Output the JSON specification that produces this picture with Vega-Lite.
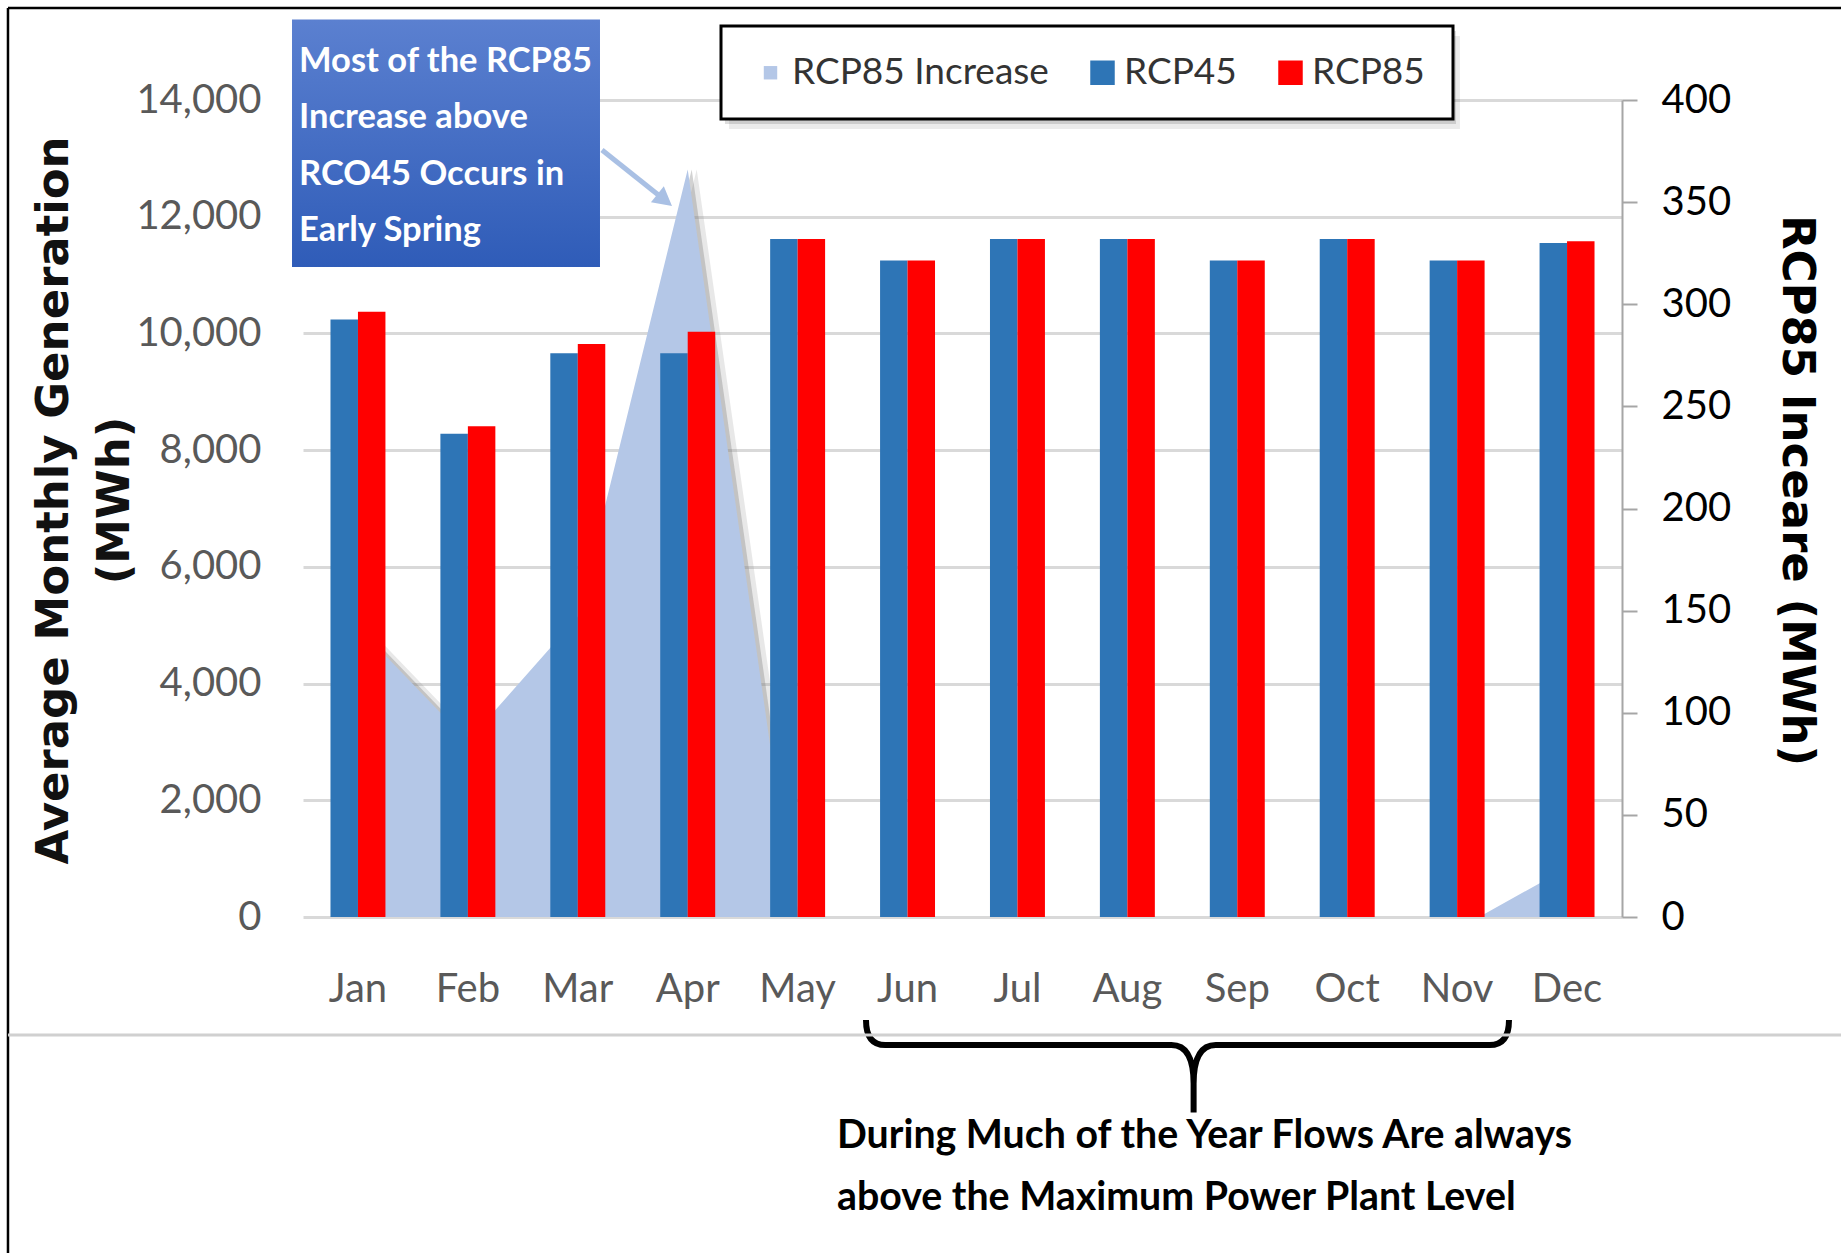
{
  "$schema": "https://vega.github.io/schema/vega-lite/v6.json",
  "width": 1319,
  "height": 817,
  "autosize": {"type": "none"},
  "padding": {"left": 303, "top": 100, "right": 219, "bottom": 336},
  "background": "white",
  "config": {"view": {"stroke": null}, "font": "Lato"},
  "datasets": {
    "bars": [
      {"month": "Jan", "series": "RCP45", "value": 10240},
      {"month": "Jan", "series": "RCP85", "value": 10370},
      {"month": "Feb", "series": "RCP45", "value": 8280},
      {"month": "Feb", "series": "RCP85", "value": 8410},
      {"month": "Mar", "series": "RCP45", "value": 9660},
      {"month": "Mar", "series": "RCP85", "value": 9820},
      {"month": "Apr", "series": "RCP45", "value": 9660},
      {"month": "Apr", "series": "RCP85", "value": 10030},
      {"month": "May", "series": "RCP45", "value": 11620},
      {"month": "May", "series": "RCP85", "value": 11620},
      {"month": "Jun", "series": "RCP45", "value": 11250},
      {"month": "Jun", "series": "RCP85", "value": 11250},
      {"month": "Jul", "series": "RCP45", "value": 11620},
      {"month": "Jul", "series": "RCP85", "value": 11620},
      {"month": "Aug", "series": "RCP45", "value": 11620},
      {"month": "Aug", "series": "RCP85", "value": 11620},
      {"month": "Sep", "series": "RCP45", "value": 11250},
      {"month": "Sep", "series": "RCP85", "value": 11250},
      {"month": "Oct", "series": "RCP45", "value": 11620},
      {"month": "Oct", "series": "RCP85", "value": 11620},
      {"month": "Nov", "series": "RCP45", "value": 11250},
      {"month": "Nov", "series": "RCP85", "value": 11250},
      {"month": "Dec", "series": "RCP45", "value": 11550},
      {"month": "Dec", "series": "RCP85", "value": 11580}
    ],
    "increase": [
      {"month": "Jan", "increase": 142},
      {"month": "Feb", "increase": 86},
      {"month": "Mar", "increase": 147},
      {"month": "Apr", "increase": 366},
      {"month": "May", "increase": -10},
      {"month": "Jun", "increase": 0},
      {"month": "Jul", "increase": 0},
      {"month": "Aug", "increase": 0},
      {"month": "Sep", "increase": 0},
      {"month": "Oct", "increase": 0},
      {"month": "Nov", "increase": -6},
      {"month": "Dec", "increase": 24}
    ]
  },
  "layer": [
    {
      "data": {"name": "increase"},
      "mark": {"type": "area", "color": "#7f7f7f", "opacity": 0.18, "xOffset": 9, "clip": true},
      "encoding": {
        "x": {"field": "month", "type": "nominal", "sort": ["Jan","Feb","Mar","Apr","May","Jun","Jul","Aug","Sep","Oct","Nov","Dec"], "scale": {"domain": ["Jan","Feb","Mar","Apr","May","Jun","Jul","Aug","Sep","Oct","Nov","Dec"], "paddingInner": 0.5, "paddingOuter": 0.25}, "bandPosition": 0.5, "axis": null},
        "y": {"field": "increase", "type": "quantitative", "scale": {"domain": [0, 400], "nice": false, "zero": false}, "axis": null}
      }
    },
    {
      "data": {"name": "increase"},
      "mark": {"type": "area", "color": "#7f7f7f", "opacity": 0.35, "xOffset": 4, "clip": true},
      "encoding": {
        "x": {"field": "month", "type": "nominal", "sort": ["Jan","Feb","Mar","Apr","May","Jun","Jul","Aug","Sep","Oct","Nov","Dec"], "scale": {"domain": ["Jan","Feb","Mar","Apr","May","Jun","Jul","Aug","Sep","Oct","Nov","Dec"], "paddingInner": 0.5, "paddingOuter": 0.25}, "bandPosition": 0.5, "axis": null},
        "y": {"field": "increase", "type": "quantitative", "scale": {"domain": [0, 400], "nice": false, "zero": false}, "axis": null}
      }
    },
    {
      "data": {"name": "increase"},
      "mark": {"type": "area", "opacity": 1, "clip": true},
      "encoding": {
        "x": {"field": "month", "type": "nominal", "sort": ["Jan","Feb","Mar","Apr","May","Jun","Jul","Aug","Sep","Oct","Nov","Dec"], "scale": {"domain": ["Jan","Feb","Mar","Apr","May","Jun","Jul","Aug","Sep","Oct","Nov","Dec"], "paddingInner": 0.5, "paddingOuter": 0.25}, "bandPosition": 0.5, "axis": null},
        "y": {
          "field": "increase", "type": "quantitative",
          "scale": {"domain": [0, 400], "nice": false, "zero": false},
          "axis": {
            "orient": "right", "values": [0, 50, 100, 150, 200, 250, 300, 350, 400],
            "grid": false, "domain": true, "domainColor": "#a6a6a6", "domainWidth": 2,
            "ticks": true, "tickColor": "#a6a6a6", "tickWidth": 2, "tickSize": 15,
            "labelPadding": 24, "labelFont": "Lato", "labelFontSize": 40, "labelColor": "#000000",
            "title": "RCP85 Inceare (MWh)", "titleFont": "DejaVu Sans", "titleFontSize": 45, "titleFontWeight": "bold",
            "titleColor": "#000000", "titleAngle": 90, "titleX": 174, "titleY": 390, "titleAlign": "center", "titleBaseline": "middle"
          }
        },
        "color": {"datum": "RCP85 Increase", "type": "nominal", "scale": {"domain": ["RCP85 Increase", "RCP45", "RCP85"], "range": ["#b4c7e7", "#2e75b6", "#ff0000"]}}
      }
    },
    {
      "data": {"name": "bars"},
      "mark": {"type": "bar"},
      "encoding": {
        "x": {
          "field": "month", "type": "nominal", "sort": ["Jan","Feb","Mar","Apr","May","Jun","Jul","Aug","Sep","Oct","Nov","Dec"],
          "scale": {"domain": ["Jan","Feb","Mar","Apr","May","Jun","Jul","Aug","Sep","Oct","Nov","Dec"], "paddingInner": 0.5, "paddingOuter": 0.25},
          "axis": {"title": null, "orient": "bottom", "domain": false, "ticks": false, "tickSize": 0, "grid": false, "labelAngle": 0, "labelPadding": 84, "labelBaseline": "alphabetic", "labelFont": "Lato", "labelFontSize": 40, "labelColor": "#595959"}
        },
        "xOffset": {"field": "series", "type": "nominal", "sort": ["RCP45", "RCP85"], "scale": {"domain": ["RCP45", "RCP85"], "paddingInner": 0, "paddingOuter": 0}},
        "y": {
          "field": "value", "type": "quantitative",
          "scale": {"domain": [0, 14000], "nice": false, "zero": false},
          "axis": {
            "orient": "left", "values": [0, 2000, 4000, 6000, 8000, 10000, 12000, 14000], "format": ",d",
            "grid": true, "gridColor": "#d9d9d9", "gridWidth": 3, "domain": false, "ticks": false, "tickSize": 0,
            "labelPadding": 42, "labelFont": "Lato", "labelFontSize": 40, "labelColor": "#595959",
            "title": ["Average Monthly Generation", "(MWh)"], "titleFont": "DejaVu Sans", "titleFontSize": 45, "titleFontWeight": "bold",
            "titleColor": "#111111", "titleAngle": -90, "titleX": -250, "titleY": 400, "titleAlign": "center", "titleBaseline": "middle", "titleLineHeight": 61
          }
        },
        "color": {
          "field": "series", "type": "nominal",
          "scale": {"domain": ["RCP85 Increase", "RCP45", "RCP85"], "range": ["#b4c7e7", "#2e75b6", "#ff0000"]},
          "legend": {
            "title": null, "orient": "none", "legendX": 418, "legendY": -74, "direction": "horizontal",
            "symbolType": "square", "symbolSize": 600, "symbolStrokeWidth": 0, "symbolOffset": 3,
            "labelFont": "Lato", "labelFontSize": 37, "labelColor": "#333333", "labelOffset": 3, "labelLimit": 500,
            "columnPadding": 32, "padding": 28, "strokeColor": "#000000", "fillColor": "#ffffff",
            "encode": {
              "legend": {"update": {"strokeWidth": {"value": 3}}},
              "symbols": {"update": {"size": {"signal": "datum.value === 'RCP85 Increase' ? 180 : 600"}}}
            }
          }
        }
      }
    },
    {
      "data": {"values": [{}]},
      "layer": [
        {
          "mark": {"type": "rect", "color": "#000000", "opacity": 0.08},
          "encoding": {
            "x": {"datum": 3.876, "type": "quantitative", "scale": {"domain": [0, 12], "nice": false, "zero": false}, "axis": null},
            "x2": {"datum": 10.526},
            "y": {"datum": 15097, "type": "quantitative", "scale": {"domain": [0, 14000], "nice": false, "zero": false}, "axis": null},
            "y2": {"datum": 13503}
          }
        },
        {
          "mark": {"type": "rect", "color": "#000000", "opacity": 0.13},
          "encoding": {
            "x": {"datum": 3.839, "type": "quantitative", "scale": {"domain": [0, 12], "nice": false, "zero": false}, "axis": null},
            "x2": {"datum": 10.49},
            "y": {"datum": 15183, "type": "quantitative", "scale": {"domain": [0, 14000], "nice": false, "zero": false}, "axis": null},
            "y2": {"datum": 13589}
          }
        },
        {
          "mark": {"type": "rect", "fill": {"gradient": "linear", "x1": 0, "y1": 0, "x2": 0, "y2": 1, "stops": [{"offset": 0, "color": "#5b80d0"}, {"offset": 1, "color": "#2f5cb8"}]}},
          "encoding": {
            "x": {"datum": -0.1, "type": "quantitative", "scale": {"domain": [0, 12], "nice": false, "zero": false}, "axis": null},
            "x2": {"datum": 2.702},
            "y": {"datum": 15379, "type": "quantitative", "scale": {"domain": [0, 14000], "nice": false, "zero": false}, "axis": null},
            "y2": {"datum": 11138}
          }
        },
        {
          "mark": {"type": "text", "text": ["Most of the RCP85", "Increase above", "RCO45 Occurs in", "Early Spring"], "align": "left", "baseline": "alphabetic", "lineHeight": 56.5, "font": "Lato", "fontWeight": "bold", "fontSize": 34.5, "color": "#ffffff"},
          "encoding": {
            "x": {"datum": -0.036, "type": "quantitative", "scale": {"domain": [0, 12], "nice": false, "zero": false}, "axis": null},
            "y": {"datum": 14480, "type": "quantitative", "scale": {"domain": [0, 14000], "nice": false, "zero": false}, "axis": null}
          }
        },
        {
          "mark": {"type": "rule", "color": "#a9c0e4", "strokeWidth": 5},
          "encoding": {
            "x": {"datum": 2.72, "type": "quantitative", "scale": {"domain": [0, 12], "nice": false, "zero": false}, "axis": null},
            "x2": {"datum": 3.302},
            "y": {"datum": 13143, "type": "quantitative", "scale": {"domain": [0, 14000], "nice": false, "zero": false}, "axis": null},
            "y2": {"datum": 12269}
          }
        },
        {
          "mark": {"type": "point", "shape": "M0,0L-1,-0.55L-1,0.55Z", "angle": 38.7, "size": 1400, "filled": true, "color": "#a9c0e4", "opacity": 1},
          "encoding": {
            "x": {"datum": 3.357, "type": "quantitative", "scale": {"domain": [0, 12], "nice": false, "zero": false}, "axis": null},
            "y": {"datum": 12184, "type": "quantitative", "scale": {"domain": [0, 14000], "nice": false, "zero": false}, "axis": null}
          }
        },
        {
          "mark": {"type": "point", "shape": "M-1,-0.078Q-1,0 -0.94,0L-0.05,0Q0.019,0 0.019,0.12L0.019,0.21M0.019,0.12Q0.019,0 0.088,0L0.94,0Q1,0 1,-0.078", "size": 413449, "filled": false, "stroke": "#000000", "strokeWidth": 6, "opacity": 1},
          "encoding": {
            "x": {"datum": 8.047, "type": "quantitative", "scale": {"domain": [0, 12], "nice": false, "zero": false}, "axis": null},
            "y": {"datum": -2193, "type": "quantitative", "scale": {"domain": [0, 14000], "nice": false, "zero": false}, "axis": null}
          }
        },
        {
          "mark": {"type": "text", "text": ["During Much of the Year Flows Are always", "above the Maximum Power Plant Level"], "align": "left", "baseline": "alphabetic", "lineHeight": 62, "font": "Lato", "fontWeight": "bold", "fontSize": 39.3, "color": "#000000"},
          "encoding": {
            "x": {"datum": 4.858, "type": "quantitative", "scale": {"domain": [0, 12], "nice": false, "zero": false}, "axis": null},
            "y": {"datum": -3958, "type": "quantitative", "scale": {"domain": [0, 14000], "nice": false, "zero": false}, "axis": null}
          }
        },
        {
          "mark": {"type": "rule", "color": "#000000", "strokeWidth": 2.5},
          "encoding": {
            "x": {"datum": -2.684, "type": "quantitative", "scale": {"domain": [0, 12], "nice": false, "zero": false}, "axis": null},
            "x2": {"datum": 14.1},
            "y": {"datum": 15577, "type": "quantitative", "scale": {"domain": [0, 14000], "nice": false, "zero": false}, "axis": null}
          }
        },
        {
          "mark": {"type": "rule", "color": "#000000", "strokeWidth": 2.5},
          "encoding": {
            "x": {"datum": -2.684, "type": "quantitative", "scale": {"domain": [0, 12], "nice": false, "zero": false}, "axis": null},
            "y": {"datum": 15577, "type": "quantitative", "scale": {"domain": [0, 14000], "nice": false, "zero": false}, "axis": null},
            "y2": {"datum": -5800}
          }
        },
        {
          "mark": {"type": "rule", "color": "#d0d0d0", "strokeWidth": 3},
          "encoding": {
            "x": {"datum": -2.684, "type": "quantitative", "scale": {"domain": [0, 12], "nice": false, "zero": false}, "axis": null},
            "x2": {"datum": 14.1},
            "y": {"datum": -2022, "type": "quantitative", "scale": {"domain": [0, 14000], "nice": false, "zero": false}, "axis": null}
          }
        }
      ]
    }
  ],
  "resolve": {"scale": {"x": "independent", "y": "independent"}}
}
